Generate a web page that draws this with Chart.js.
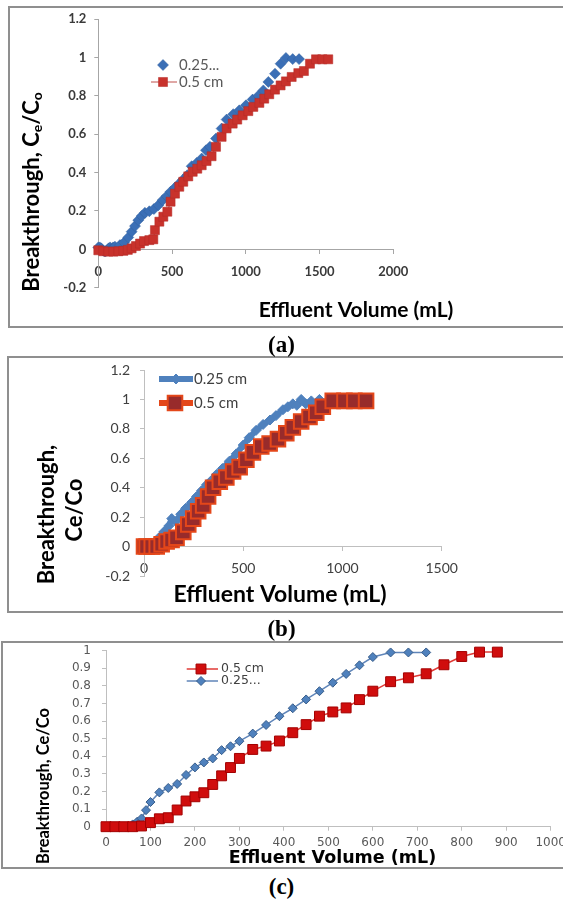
<!DOCTYPE html>
<html>
<head>
<meta charset="utf-8">
<title>Breakthrough curves</title>
<script src="https://cdn.jsdelivr.net/npm/chart.js@4.4.1/dist/chart.umd.min.js"></script>
<style>
  html, body { margin: 0; padding: 0; background: #fff; overflow: hidden; width: 563px; height: 899px; }
  .box { position: absolute; box-sizing: border-box; border: 2px solid #8f8f8f; width: 620px; }
  canvas { position: absolute; left: 0; }
  .cap { position: absolute; left: 0; width: 563px; text-align: center; font: bold 23px "Liberation Serif", serif; color: #000; line-height: 24px; }
</style>
</head>
<body>
<div class="box" style="left:8px; top:6px; height:322px"></div>
<div class="box" style="left:7px; top:356px; height:257px"></div>
<div class="box" style="left:1px; top:641px; height:228px"></div>
<canvas id="chartA" width="563" height="340" style="top:0"></canvas>
<canvas id="chartB" width="563" height="270" style="top:345px"></canvas>
<canvas id="chartC" width="563" height="240" style="top:630px"></canvas>
<div class="cap" style="top:333px">(a)</div>
<div class="cap" style="top:617px">(b)</div>
<div class="cap" style="top:875px">(c)</div>

<script>
// ---- (a) data ----
var aBlueX = [0, 10, 20, 30, 40, 50, 60, 70, 80, 100, 113, 147, 174, 203, 226, 249, 271, 294, 316, 346,
  377, 407, 436, 463, 490, 520, 549, 576, 603, 633, 667, 701, 730, 757, 798, 836, 870, 915, 956, 1001,
  1046, 1085, 1119, 1153, 1198, 1236, 1272, 1318, 1361];
var aBlueY = [0.01, 0.01, 0.005, -0.005, -0.01, -0.01, -0.005, 0.005, 0.01, 0.01, 0.014, 0.022, 0.035, 0.062, 0.092, 0.121, 0.152, 0.173, 0.19, 0.198,
  0.21, 0.23, 0.256, 0.277, 0.30, 0.322, 0.343, 0.364, 0.386, 0.433, 0.45, 0.473, 0.516, 0.534, 0.577, 0.629, 0.676, 0.704, 0.724, 0.75,
  0.78, 0.80, 0.828, 0.872, 0.915, 0.967, 0.997, 0.991, 0.991];
var aRedX = [0, 34, 68, 102, 136, 170, 200, 226, 255, 283, 310, 346, 373, 384, 414, 441,
  468, 490, 520, 549, 576, 610, 640, 671, 701, 734, 768, 798, 836, 870, 911, 942, 979, 1017, 1051, 1092,
  1125, 1159, 1198, 1236, 1272, 1311, 1356, 1394, 1435, 1476, 1519, 1559];
var aRedY = [-0.005, -0.01, -0.012, -0.012, -0.01, -0.008, -0.003, 0.005, 0.017, 0.03, 0.043, 0.048, 0.052, 0.10, 0.144, 0.17,
  0.196, 0.248, 0.29, 0.326, 0.352, 0.38, 0.404, 0.42, 0.438, 0.46, 0.485, 0.534, 0.586, 0.63, 0.655, 0.676, 0.698, 0.72, 0.742, 0.763,
  0.785, 0.808, 0.832, 0.854, 0.875, 0.898, 0.918, 0.929, 0.967, 0.99, 0.99, 0.99];
var aXTicks = [0, 500, 1000, 1500, 2000];
var aYTicks = [-0.2, 0, 0.2, 0.4, 0.6, 0.8, 1, 1.2];

// ---- (b) data ----
var bBlueX = [0, 25, 50, 75, 100, 125, 140, 160, 185, 210, 240, 265, 290, 315, 340, 365, 395, 430, 465, 500,
  530, 565, 600, 635, 665, 700, 725, 750, 770, 792, 815, 843, 865, 884, 905, 926];
var bBlueY = [0, 0, 0.02, 0.06, 0.10, 0.14, 0.19, 0.17, 0.22, 0.26, 0.30, 0.34, 0.38, 0.42, 0.45, 0.49, 0.53, 0.58, 0.63, 0.69,
  0.74, 0.79, 0.83, 0.86, 0.89, 0.93, 0.95, 0.97, 0.96, 1.0, 0.97, 0.99, 0.97, 1.0, 0.97, 0.99];
var bRedX = [0, 13, 39, 64, 89, 114, 139, 164, 198, 223, 248, 273, 298, 323, 348, 382, 415, 449, 482, 516,
  549, 591, 633, 675, 717, 750, 792, 834, 868, 901, 951, 1010, 1060, 1119];
var bRedY = [0, 0, 0, 0, 0.016, 0.034, 0.045, 0.06, 0.10, 0.15, 0.19, 0.24, 0.28, 0.34, 0.40, 0.44, 0.47, 0.51, 0.54, 0.59,
  0.64, 0.68, 0.70, 0.73, 0.77, 0.81, 0.85, 0.88, 0.91, 0.95, 0.99, 0.99, 0.99, 0.99];
var bXTicks = [0, 500, 1000, 1500];
var bYTicks = [-0.2, 0, 0.2, 0.4, 0.6, 0.8, 1, 1.2];

// ---- (c) data ----
var cRedX = [0, 20, 40, 60, 80, 100, 120, 140, 160, 180, 200, 220, 240, 260, 280, 300,
  330, 360, 390, 420, 450, 480, 510, 540, 570, 600, 640, 680, 720, 760, 800, 840, 880];
var cRedY = [0, 0, 0, 0, 0.004, 0.023, 0.045, 0.051, 0.095, 0.146, 0.17, 0.193, 0.24, 0.289, 0.336, 0.388,
  0.439, 0.458, 0.487, 0.534, 0.58, 0.628, 0.652, 0.675, 0.722, 0.77, 0.824, 0.846, 0.869, 0.92, 0.967, 0.992, 0.992];
var cBlueX = [5, 15, 25, 35, 45, 60, 70, 80, 90, 100, 120, 140, 160, 180, 200, 220, 240, 260, 280, 300,
  330, 360, 390, 420, 450, 480, 510, 540, 570, 600, 640, 680, 720];
var cBlueY = [0, 0, 0, 0, 0, 0.013, 0.028, 0.047, 0.094, 0.14, 0.195, 0.22, 0.243, 0.294, 0.337, 0.365, 0.388, 0.435, 0.457, 0.486,
  0.529, 0.578, 0.628, 0.673, 0.723, 0.77, 0.818, 0.868, 0.917, 0.964, 0.99, 0.99, 0.99];
var cXTicks = [0, 100, 200, 300, 400, 500, 600, 700, 800, 900, 1000];
var cYTicks = [0, 0.1, 0.2, 0.3, 0.4, 0.5, 0.6, 0.7, 0.8, 0.9, 1];

function pts(xs, ys) {
  return xs.map(function (x, i) { return { x: x, y: ys[i] }; });
}

// plain numbers, no grouping commas, no trailing zeros
function fmt(v) {
  return String(Math.round(v * 10) / 10);
}

// text with optional subscript pieces, centred on x,y
function drawRich(ctx, t) {
  ctx.save();
  ctx.translate(t.x, t.y);
  if (t.rot) ctx.rotate(t.rot * Math.PI / 180);
  ctx.fillStyle = t.color || '#000';
  ctx.textBaseline = 'middle';
  ctx.textAlign = 'left';
  var parts = t.parts || [{ s: t.text }];
  var w = 0;
  parts.forEach(function (p) {
    ctx.font = p.sub ? t.subFont : t.font;
    p.w = ctx.measureText(p.s).width;
    w += p.w;
  });
  var x = -w / 2;
  parts.forEach(function (p) {
    ctx.font = p.sub ? t.subFont : t.font;
    ctx.fillText(p.s, x, p.sub ? t.subShift : 0);
    x += p.w;
  });
  ctx.restore();
}

function marker(ctx, style, r, x, y) {
  ctx.beginPath();
  if (style === 'rect') {
    var s = r * Math.SQRT1_2;
    ctx.rect(x - s, y - s, 2 * s, 2 * s);
  } else {
    ctx.moveTo(x, y - r);
    ctx.lineTo(x + r, y);
    ctx.lineTo(x, y + r);
    ctx.lineTo(x - r, y);
    ctx.closePath();
  }
  ctx.fill();
  ctx.stroke();
}

// legend entry drawn from the dataset's own styling
function drawKey(chart, k, font, color) {
  var ctx = chart.ctx;
  var ds = chart.data.datasets[k.ds];
  ctx.save();
  if (k.line) {
    ctx.strokeStyle = ds.borderColor;
    ctx.lineWidth = ds.borderWidth;
    ctx.beginPath();
    ctx.moveTo(k.line[0], k.y);
    ctx.lineTo(k.line[1], k.y);
    ctx.stroke();
  }
  ctx.fillStyle = ds.pointBackgroundColor;
  ctx.strokeStyle = ds.pointBorderColor;
  ctx.lineWidth = ds.pointBorderWidth;
  marker(ctx, ds.pointStyle, ds.pointRadius, k.mx, k.y);
  ctx.font = font;
  ctx.fillStyle = color;
  ctx.textBaseline = 'middle';
  ctx.textAlign = 'left';
  ctx.fillText(ds.label, k.tx, k.y);
  ctx.restore();
}

var decor = {
  id: 'decor',
  afterDraw: function (chart, args, opts) {
    (opts.texts || []).forEach(function (t) { drawRich(chart.ctx, t); });
    (opts.keys || []).forEach(function (k) { drawKey(chart, k, opts.keyFont, opts.keyColor); });
  }
};

function yScale(ticks, font, color, lineColor, pad) {
  return {
    type: 'linear',
    min: ticks[0],
    max: ticks[ticks.length - 1],
    afterBuildTicks: function (s) { s.ticks = ticks.map(function (v) { return { value: v }; }); },
    afterFit: function (s) { s.width = 60; s.paddingTop = 0; s.paddingBottom = 0; },
    grid: { drawOnChartArea: false, tickLength: 4, tickColor: lineColor },
    border: { color: lineColor, width: 1 },
    ticks: { font: font, color: color, padding: pad, callback: fmt }
  };
}

function xScale(ticks, pos, font, color, lineColor, pad) {
  return {
    type: 'linear',
    position: pos,
    min: ticks[0],
    max: ticks[ticks.length - 1],
    afterBuildTicks: function (s) { s.ticks = ticks.map(function (v) { return { value: v }; }); },
    afterFit: function (s) { s.paddingLeft = 0; s.paddingRight = 0; if (pos === 'bottom') s.height = 30; },
    grid: { drawOnChartArea: false, tickLength: 4, tickColor: lineColor },
    border: { color: lineColor, width: 1 },
    ticks: { font: font, color: color, padding: pad, autoSkip: false, maxRotation: 0, callback: fmt }
  };
}

function makeChart(id, datasets, scales, padding, decorOpts) {
  return new Chart(document.getElementById(id), {
    type: 'scatter',
    data: { datasets: datasets },
    options: {
      responsive: false,
      animation: false,
      devicePixelRatio: 1,
      layout: { padding: padding },
      scales: scales,
      plugins: { legend: { display: false }, tooltip: { enabled: false }, decor: decorOpts }
    },
    plugins: [decor]
  });
}

// (a) markers only for 0.25 cm, line + squares for 0.5 cm
var fontA = { family: 'Lato', size: 13, weight: 'bold' };
makeChart('chartA', [
  { label: '0.25...', data: pts(aBlueX, aBlueY), showLine: false, order: 1, clip: false,
    pointStyle: 'rectRot', pointRadius: 5.5, pointBackgroundColor: '#3b6fb6', pointBorderColor: '#31609f', pointBorderWidth: 0.5,
    borderColor: '#3b6fb6', borderWidth: 0 },
  { label: '0.5 cm', data: pts(aRedX, aRedY), showLine: true, order: 0, clip: false,
    borderColor: '#c0504d', borderWidth: 1,
    pointStyle: 'rect', pointRadius: 6.4, pointBackgroundColor: '#c8322c', pointBorderColor: '#b52b26', pointBorderWidth: 0.5 }
], {
  x: xScale(aXTicks, { y: 0 }, fontA, '#3a3a3a', '#a6a6a6', 11),
  y: yScale(aYTicks, fontA, '#3a3a3a', '#a6a6a6', 8)
}, { left: 38.3, right: 169.7, top: 19, bottom: 52.3 }, {
  texts: [
    { x: 32, y: 192, rot: -90, font: 'bold 22px Lato', subFont: 'bold 14px Lato', subShift: 5,
      parts: [{ s: 'Breakthrough, C' }, { s: 'e', sub: true }, { s: '/C' }, { s: 'o', sub: true }] },
    { x: 356, y: 310, font: 'bold 21px Lato', text: 'Effluent Volume (mL)' }
  ],
  keys: [
    { ds: 0, y: 65, mx: 163, tx: 179 },
    { ds: 1, y: 82, mx: 163, tx: 179, line: [151, 177] }
  ],
  keyFont: '15px Lato',
  keyColor: '#595959'
});

// (b) heavy lines with big overlapping squares
var fontB = { family: 'Lato', size: 14 };
makeChart('chartB', [
  { label: '0.25 cm', data: pts(bBlueX, bBlueY), showLine: true, order: 1, clip: false,
    borderColor: '#4f81bd', borderWidth: 6,
    pointStyle: 'rectRot', pointRadius: 5, pointBackgroundColor: '#4f81bd', pointBorderColor: '#4f81bd', pointBorderWidth: 1 },
  { label: '0.5 cm', data: pts(bRedX, bRedY), showLine: true, order: 0, clip: false,
    borderColor: '#e4471a', borderWidth: 6,
    pointStyle: 'rect', pointRadius: 10.3, pointBackgroundColor: '#982b2b', pointBorderColor: '#e4471a', pointBorderWidth: 2 }
], {
  x: xScale(bXTicks, { y: 0 }, fontB, '#404040', '#bfbfbf', 10),
  y: yScale(bYTicks, fontB, '#404040', '#bfbfbf', 10)
}, { left: 84, right: 121.3, top: 25, bottom: 39 }, {
  texts: [
    { x: 47, y: 169.5, rot: -90, font: 'bold 22px Lato', text: 'Breakthrough,' },
    { x: 75, y: 165, rot: -90, font: 'bold 22px Lato', text: 'Ce/Co' },
    { x: 280, y: 250, font: 'bold 23px Lato', text: 'Effluent Volume (mL)' }
  ],
  keys: [
    { ds: 0, y: 34, mx: 176, tx: 194, line: [159, 193] },
    { ds: 1, y: 58, mx: 175, tx: 194, line: [159, 193] }
  ],
  keyFont: '15px Lato',
  keyColor: '#404040'
});

// (c) thin lines, small markers, 0.5 cm listed first
var fontC = { family: 'DejaVu Sans', size: 12 };
makeChart('chartC', [
  { label: '0.5 cm', data: pts(cRedX, cRedY), showLine: true, clip: false,
    borderColor: '#e03a36', borderWidth: 1.5,
    pointStyle: 'rect', pointRadius: 7, pointBackgroundColor: '#d00d0d', pointBorderColor: '#a30000', pointBorderWidth: 1 },
  { label: '0.25...', data: pts(cBlueX, cBlueY), showLine: true, clip: false,
    borderColor: '#5f85b9', borderWidth: 1.5,
    pointStyle: 'rectRot', pointRadius: 4.5, pointBackgroundColor: '#4f81bd', pointBorderColor: '#385d8a', pointBorderWidth: 1 }
], {
  x: xScale(cXTicks, 'bottom', fontC, '#595959', '#bfbfbf', 5),
  y: yScale(cYTicks, fontC, '#595959', '#bfbfbf', 11)
}, { left: 46, right: 12.3, top: 20.7, bottom: 13.3 }, {
  texts: [
    { x: 43.3, y: 156, rot: -90, font: 'bold 16.5px Lato', text: 'Breakthrough, Ce/Co' },
    { x: 332.5, y: 228.3, font: 'bold 17.5px "DejaVu Sans"', text: 'Effluent Volume (mL)' }
  ],
  keys: [
    { ds: 0, y: 39, mx: 201, tx: 221, line: [186.7, 218] },
    { ds: 1, y: 51, mx: 201, tx: 221, line: [186.7, 218] }
  ],
  keyFont: '12.5px "DejaVu Sans"',
  keyColor: '#404040'
});
</script>
</body>
</html>
